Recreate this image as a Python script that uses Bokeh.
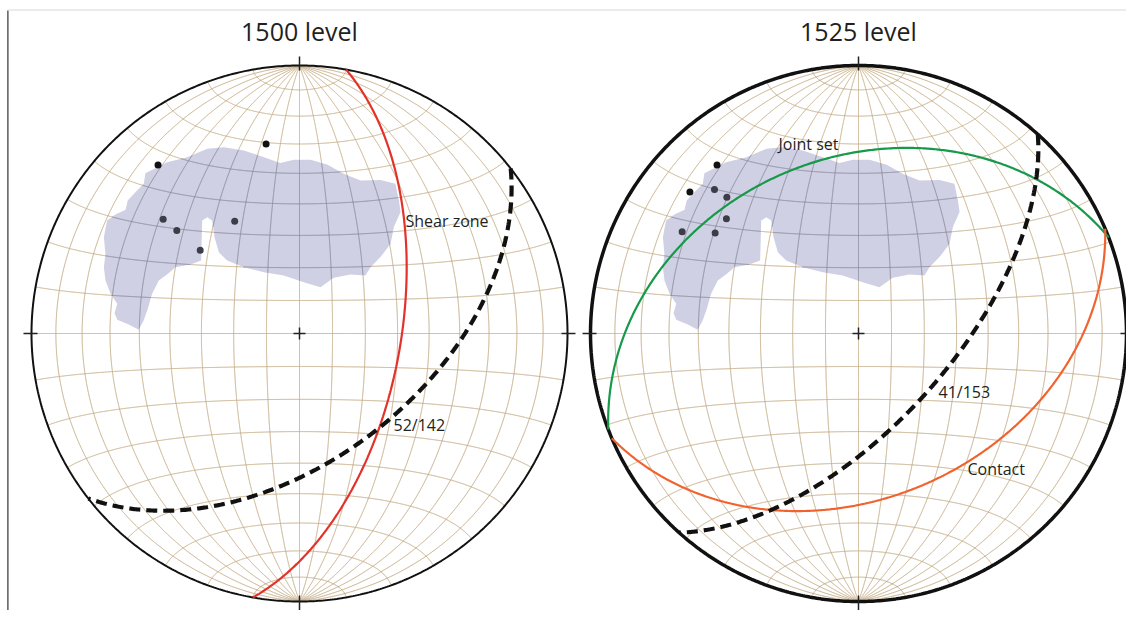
import numpy as np
from bokeh.plotting import figure
from bokeh.models import Range1d
from bokeh.core.properties import value
from bokeh.embed import file_html
from bokeh.resources import INLINE

# ---------------- data ----------------
titles = ["1500 level", "1525 level"]

# great circles: dip (deg), dip direction (deg)
shear_zone_dip, shear_zone_ddir = 59, 100
plane_52_142_dip, plane_52_142_ddir = 52, 142
joint_set_dip, joint_set_ddir = 34.5, 339
contact_dip, contact_ddir = 38.5, 157
plane_41_153_dip, plane_41_153_ddir = 62.5, 132

# plotted lines: trend, plunge (deg)
pts_1500_trend = [320, 350, 310, 310, 310, 330]
pts_1500_plunge = [19, 29, 34, 40, 50, 50]
pts_1525_trend = [320, 310, 315, 316, 311, 300, 305]
pts_1525_plunge = [19, 19, 25, 30, 35, 25, 35]

# shaded region outline (net coordinates, unit primitive, y to north)
region_x = [-0.575, -0.494, -0.419, -0.344, -0.282, -0.208, -0.133, -0.071, -0.021, 0.041,
            0.103, 0.165, 0.228, 0.302, 0.358, 0.371, 0.377, 0.352, 0.340, 0.302,
            0.265, 0.246, 0.190, 0.128, 0.078, 0.016, -0.059, -0.133, -0.208, -0.270,
            -0.301, -0.317, -0.326, -0.344, -0.363, -0.367, -0.407, -0.463, -0.491, -0.525,
            -0.550, -0.566, -0.581, -0.600, -0.637, -0.680, -0.690, -0.680, -0.705, -0.724,
            -0.730, -0.724, -0.730, -0.718, -0.687, -0.649, -0.641, -0.606, -0.581]
region_y = [0.598, 0.639, 0.658, 0.689, 0.695, 0.683, 0.658, 0.636, 0.648, 0.648,
            0.631, 0.596, 0.571, 0.573, 0.559, 0.496, 0.453, 0.397, 0.335, 0.285,
            0.247, 0.216, 0.220, 0.208, 0.173, 0.191, 0.216, 0.229, 0.247, 0.272,
            0.303, 0.359, 0.422, 0.434, 0.422, 0.272, 0.257, 0.247, 0.223, 0.198,
            0.148, 0.092, 0.049, 0.014, 0.034, 0.051, 0.076, 0.111, 0.148, 0.198,
            0.247, 0.297, 0.359, 0.422, 0.444, 0.462, 0.496, 0.534, 0.559]

# ---------------- layout ----------------
R = 268
CY = 333
CX = [299, 858]
GRID = "#c4ab84"
GRID_IN = "#8d8c9e"
REGION = "#cfd0e4"
INK = "#231f20"
FONT = value("Open Sans")


def eqarea(E, N, D):
    f = 1.0 / np.sqrt(1.0 + D)
    return E * f, N * f


def line_proj(trend, plunge):
    t = np.radians(np.asarray(trend, float))
    p = np.radians(np.asarray(plunge, float))
    return eqarea(np.cos(p) * np.sin(t), np.cos(p) * np.cos(t), np.sin(p))


def great_circle(dip, ddir, n=400):
    d, a = np.radians(dip), np.radians(ddir)
    s = a - np.pi / 2
    t = np.linspace(0, np.pi, n)
    sv = np.array([np.sin(s), np.cos(s), 0.0])
    dv = np.array([np.sin(a) * np.cos(d), np.cos(a) * np.cos(d), np.sin(d)])
    v = np.outer(np.cos(t), sv) + np.outer(np.sin(t), dv)
    return eqarea(v[:, 0], v[:, 1], v[:, 2])


def net_lines(n=1200):
    lines = []
    phi = np.radians(np.linspace(-90, 90, n))
    for lam in range(-80, 81, 10):
        l = np.radians(lam)
        lines.append(eqarea(np.cos(phi) * np.sin(l), np.sin(phi), np.cos(phi) * np.cos(l)))
    lam = np.radians(np.linspace(-90, 90, n))
    for ph in range(-80, 81, 10):
        f = np.radians(ph)
        lines.append(eqarea(np.cos(f) * np.sin(lam), np.full_like(lam, np.sin(f)), np.cos(f) * np.cos(lam)))
    return lines


def inside(px, py, vx, vy):
    vx, vy = np.asarray(vx), np.asarray(vy)
    res = np.zeros(np.shape(px), bool)
    j = len(vx) - 1
    for i in range(len(vx)):
        xi, yi, xj, yj = vx[i], vy[i], vx[j], vy[j]
        cond = ((yi > py) != (yj > py)) & (px < (xj - xi) * (py - yi) / (yj - yi + 1e-12) + xi)
        res ^= cond
        j = i
    return res


def to_px(cx, X, Y):
    return cx + R * np.asarray(X), CY - R * np.asarray(Y)


p = figure(width=1126, height=610, x_range=Range1d(0, 1126), y_range=Range1d(610, 0),
           output_backend="svg", toolbar_location=None, min_border=0)
p.axis.visible = False
p.grid.visible = False
p.outline_line_color = None
p.background_fill_color = "white"

# page frame lines
p.segment(x0=[7.4], y0=[10], x1=[7.4], y1=[618], line_color="#333333", line_width=1.2)
p.segment(x0=[7.4], y0=[9.5], x1=[1134], y1=[9.5], line_color="#d8d8d8", line_width=1)

grid = net_lines()
theta = np.linspace(0, 2 * np.pi, 721)

panels = [
    dict(cx=CX[0], title=titles[0], prim_w=2.0,
         circles=[(shear_zone_dip, shear_zone_ddir, "#e2322a", 2.2, "solid"),
                  (plane_52_142_dip, plane_52_142_ddir, "#111111", 4.2, "11 6")],
         tr=pts_1500_trend, pl=pts_1500_plunge,
         labels=[("Shear zone", 405, 220), ("52/142", 393, 424)]),
    dict(cx=CX[1], title=titles[1], prim_w=3.5,
         circles=[(joint_set_dip, joint_set_ddir, "#17994a", 2.2, "solid"),
                  (contact_dip, contact_ddir, "#f0632f", 2.2, "solid"),
                  (plane_41_153_dip, plane_41_153_ddir, "#111111", 4.2, "11 6")],
         tr=pts_1525_trend, pl=pts_1525_plunge,
         labels=[("Joint set", 778, 143), ("41/153", 938, 391), ("Contact", 967, 468)]),
]

for pn in panels:
    cx = pn["cx"]
    # base grid
    xs, ys = [], []
    for X, Y in grid:
        gx, gy = to_px(cx, X, Y)
        xs.append(gx); ys.append(gy)
    p.multi_line(xs, ys, line_color=GRID, line_width=1)

    # shaded region
    rx, ry = to_px(cx, region_x, region_y)
    p.patch(list(rx), list(ry), fill_color=REGION, line_color=None)

    # grid within region
    xs2, ys2 = [], []
    for X, Y in grid:
        m = inside(np.asarray(X), np.asarray(Y), region_x, region_y)
        if m.any():
            gx, gy = to_px(cx, X, Y)
            gx = np.where(m, gx, np.nan); gy = np.where(m, gy, np.nan)
            xs2.append(gx); ys2.append(gy)
    p.multi_line(xs2, ys2, line_color=GRID_IN, line_width=1)

    # primitive circle
    px_, py_ = to_px(cx, np.cos(theta), np.sin(theta))
    p.line(px_, py_, line_color="#111111", line_width=pn["prim_w"])

    # ticks and centre cross
    tick = dict(line_color="#222222", line_width=1.5)
    p.segment(x0=[cx, cx, cx - R - 8, cx + R - 6, cx - 6, cx],
              y0=[CY - R - 9, CY + R - 6, CY, CY, CY, CY - 6],
              x1=[cx, cx, cx - R + 6, cx + R + 8, cx + 6, cx],
              y1=[CY - R + 5, CY + R + 9, CY, CY, CY, CY + 6], **tick)

    # great circles
    for dip, ddir, col, w, dash in pn["circles"]:
        X, Y = great_circle(dip, ddir)
        gx, gy = to_px(cx, X, Y)
        p.line(gx, gy, line_color=col, line_width=w, line_dash=dash)

    # points
    X, Y = line_proj(pn["tr"], pn["pl"])
    m = inside(X, Y, region_x, region_y)
    gx, gy = to_px(cx, X, Y)
    cols = ["#3d3d48" if k else "#111111" for k in m]
    p.scatter(gx, gy, size=7, fill_color=cols, line_color=None)

    # title
    p.text(x=[cx], y=[30], text=[pn["title"]], text_align="center", text_baseline="middle",
           text_font=FONT, text_font_size="25px", text_color=INK)
    # labels
    for txt, lx, ly in pn["labels"]:
        p.text(x=[lx], y=[ly], text=[txt], text_align="left", text_baseline="middle",
               text_font=FONT, text_font_size="16px", text_color=INK)

open("out.html", "w").write(file_html(p, INLINE))
